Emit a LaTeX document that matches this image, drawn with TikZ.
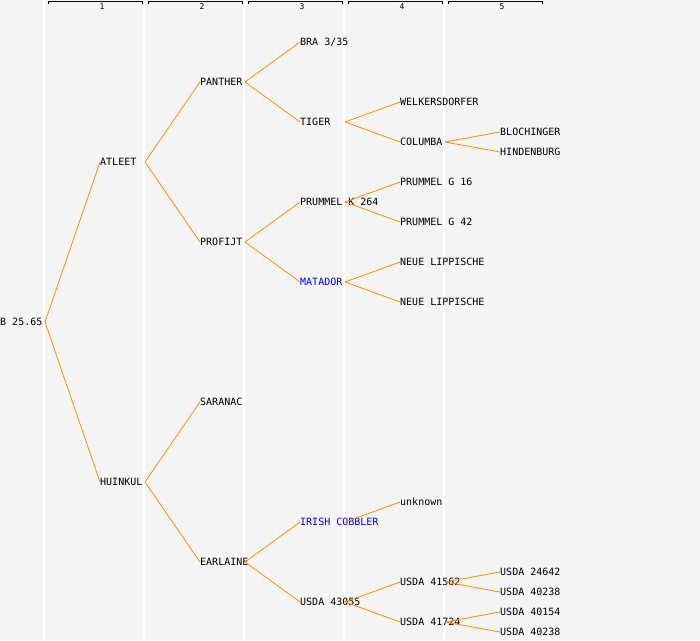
\documentclass[tikz,border=0pt]{standalone}
\usepackage{fontspec}
\setmonofont{DejaVu Sans Mono}
\definecolor{bggray}{HTML}{F4F4F4}
\definecolor{edgeorange}{HTML}{FF8C00}
\tikzset{
    ancestor/.style={anchor=west, inner sep=0pt, font=\fontsize{10}{12}\selectfont\ttfamily,
        text height=7.3pt, text depth=0pt},
    imported/.style={ancestor, text=blue},
    colnum/.style={inner sep=0pt, font=\fontsize{8}{9}\selectfont\ttfamily},
    edge/.style={edgeorange, line width=0.8pt},
    colline/.style={white, line width=1.2pt},
    bracket/.style={black, line width=0.8pt}
}
\begin{document}
\begin{tikzpicture}[x=1pt, y=-1pt]
    \fill[bggray] (0,0) rectangle (700,640);
    \useasboundingbox (0,0) rectangle (700,640);

    % generation columns
    \foreach \x in {44,144,244,344,444}
        \draw[colline] (\x,0) -- (\x,640);
    \foreach \k in {1,...,5} {
        \draw[bracket] ({100*\k-52},4) -- ({100*\k-52},1.5) -- ({100*\k+42},1.5) -- ({100*\k+42},4);
        \node[colnum] (num\k) at ({100*\k+2},6.5) {\k};
    }

    \node[ancestor] (root) at (0,322) {B 25.65};

    \node[ancestor] (atleet) at (100,162) {ATLEET};
    \node[ancestor] (huinkul) at (100,482) {HUINKUL};

    \node[ancestor] (panther) at (200,82) {PANTHER};
    \node[ancestor] (profijt) at (200,242) {PROFIJT};
    \node[ancestor] (saranac) at (200,402) {SARANAC};
    \node[ancestor] (earlaine) at (200,562) {EARLAINE};

    \node[ancestor] (bra) at (300,42) {BRA 3/35};
    \node[ancestor] (tiger) at (300,122) {TIGER};
    \node[ancestor] (prummelk) at (300,202) {PRUMMEL K 264};
    \node[imported] (matador) at (300,282) {MATADOR};
    \node[imported] (irish) at (300,522) {IRISH COBBLER};
    \node[ancestor] (usda43055) at (300,602) {USDA 43055};

    \node[ancestor] (welkers) at (400,102) {WELKERSDORFER};
    \node[ancestor] (columba) at (400,142) {COLUMBA};
    \node[ancestor] (prummelga) at (400,182) {PRUMMEL G 16};
    \node[ancestor] (prummelgb) at (400,222) {PRUMMEL G 42};
    \node[ancestor] (neuea) at (400,262) {NEUE LIPPISCHE};
    \node[ancestor] (neueb) at (400,302) {NEUE LIPPISCHE};
    \node[ancestor] (unknown) at (400,502) {unknown};
    \node[ancestor] (usda41562) at (400,582) {USDA 41562};
    \node[ancestor] (usda41724) at (400,622) {USDA 41724};

    \node[ancestor] (bloching) at (500,132) {BLOCHINGER};
    \node[ancestor] (hindenb) at (500,152) {HINDENBURG};
    \node[ancestor] (usda24642) at (500,572) {USDA 24642};
    \node[ancestor] (usda40238a) at (500,592) {USDA 40238};
    \node[ancestor] (usda40154) at (500,612) {USDA 40154};
    \node[ancestor] (usda40238b) at (500,632) {USDA 40238};

    % parent links
    \foreach \a/\b in {root/atleet, root/huinkul,
            atleet/panther, atleet/profijt, huinkul/saranac, huinkul/earlaine,
            panther/bra, panther/tiger, profijt/prummelk, profijt/matador,
            earlaine/irish, earlaine/usda43055,
            tiger/welkers, tiger/columba, prummelk/prummelga, prummelk/prummelgb,
            matador/neuea, matador/neueb, irish/unknown,
            usda43055/usda41562, usda43055/usda41724,
            columba/bloching, columba/hindenb,
            usda41562/usda24642, usda41562/usda40238a,
            usda41724/usda40154, usda41724/usda40238b}
        \draw[edge] ([xshift=45pt]\a.west) -- (\b.west);
\end{tikzpicture}
\end{document}
